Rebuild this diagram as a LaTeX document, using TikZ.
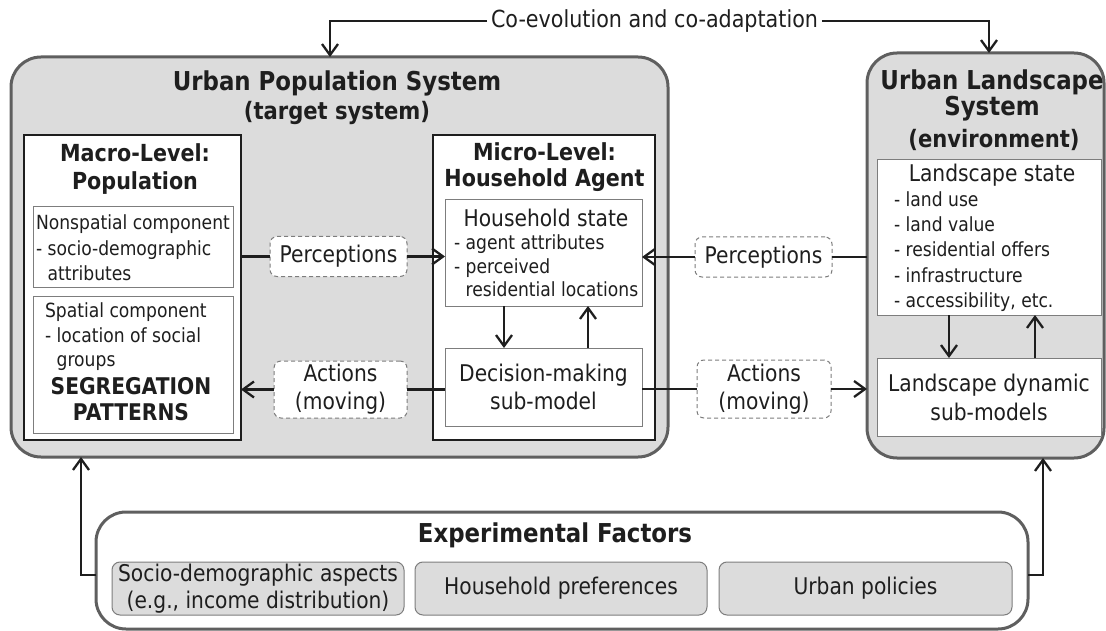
\documentclass[tikz,border=0pt]{standalone}
\usepackage{fontspec}
\setmainfont[FakeStretch=0.88]{DejaVu Sans}
\usetikzlibrary{arrows.meta}
\definecolor{boxgray}{RGB}{220,220,220}
\definecolor{bordergray}{RGB}{95,95,95}
\definecolor{ink}{RGB}{30,30,30}
\definecolor{thingray}{RGB}{125,125,125}
\newcommand\myfs[2]{\fontsize{#1}{#2}\selectfont}
\begin{document}
\begin{tikzpicture}[x=1pt,y=-1pt,
  every node/.style={inner sep=0pt, outer sep=0pt, text=ink},
  sysbox/.style={draw=bordergray, line width=3pt, fill=boxgray, rounded corners=30pt},
  levelbox/.style={draw=ink, line width=1.8pt, fill=white},
  compbox/.style={draw=thingray, line width=1pt, fill=white},
  factbox/.style={draw=thingray, line width=1pt, fill=boxgray, rounded corners=8pt, align=center, font=\myfs{23}{27}},
  flowbox/.style={draw=thingray, line width=1pt, dash pattern=on 4pt off 3pt, fill=white, rounded corners=7pt, align=center, font=\myfs{23}{28}},
  link/.style={draw=ink, line width=2.3pt},
  arr/.style={link, -{Straight Barb[length=11pt,width=16pt]}},
  big/.style={font=\myfs{23}{28}, align=center},
  small/.style={font=\myfs{19.5}{25}, align=left},
  boldt/.style={font=\bfseries\myfs{23.5}{28}, align=center}]
\useasboundingbox (0,0) rectangle (1106,631);

% ---- main system boxes
\node[sysbox, minimum width=657pt, minimum height=400pt] (ups) at (339.5,257) {};
\node[sysbox, minimum width=237pt, minimum height=405pt] (uls) at (985.5,255.5) {};
\node[draw=bordergray, line width=3pt, fill=white, rounded corners=30pt, minimum width=932pt, minimum height=117pt] (ef) at (562,570.5) {};

% ---- titles
\node[font=\bfseries\myfs{26}{30}] (upsT) at (337,83) {Urban Population System};
\node[font=\bfseries\myfs{24}{28}] (upsS) at (337,113) {(target system)};
\node[font=\bfseries\myfs{26}{26}, align=center] (ulsT) at (992,95) {Urban Landscape\\System};
\node[font=\bfseries\myfs{24}{28}] (ulsS) at (994,140) {(environment)};
\node[font=\bfseries\myfs{26}{30}] (efT) at (555,535) {Experimental Factors};
\node[font=\myfs{23.5}{28}, inner sep=4pt] (coev) at (654.5,21) {Co-evolution and co-adaptation};

% ---- macro level
\node[levelbox, minimum width=217pt, minimum height=305pt] (macro) at (132.5,287.5) {};
\node[boldt] (macT) at (135,169) {Macro-Level:\\Population};
\node[compbox, minimum width=200pt, minimum height=80pt] (ns) at (133,247) {};
\node[small, font=\myfs{19.5}{25.5}, anchor=west] (nsT) at (36,248) {Nonspatial component\\- socio-demographic\\\phantom{- }attributes};
\node[compbox, minimum width=200pt, minimum height=137pt] (sp) at (133,364.5) {};
\node[small, font=\myfs{19.5}{24.5}, anchor=west] (spT) at (45,337) {Spatial component\\- location of social\\\phantom{- }groups};
\node[font=\bfseries\myfs{23}{26}, align=center] (segT) at (131,399) {SEGREGATION\\PATTERNS};

% ---- micro level
\node[levelbox, minimum width=222pt, minimum height=305pt] (micro) at (544,287.5) {};
\node[boldt, font=\bfseries\myfs{23.5}{26}] (micT) at (544.5,167.5) {Micro-Level:\\Household Agent};
\node[compbox, minimum width=197pt, minimum height=106pt] (hs) at (543.5,253) {};
\node[big] (hsT) at (546,218) {Household state};
\node[small, font=\myfs{19.5}{23.5}, anchor=west] (hsL) at (454,266) {- agent attributes\\- perceived\\\phantom{- }residential locations};
\node[compbox, big, minimum width=197pt, minimum height=78pt] (dm) at (543.5,387) {Decision-making\\sub-model};

% ---- landscape
\node[compbox, minimum width=224pt, minimum height=155pt] (ls) at (989,237.5) {};
\node[big] (lsT) at (992,175) {Landscape state};
\node[small, font=\myfs{19.5}{25.2}, anchor=west] (lsL) at (894,251.5) {- land use\\- land value\\- residential offers\\- infrastructure\\- accessibility, etc.};
\node[compbox, big, font=\myfs{23}{29}, minimum width=224pt, minimum height=78pt] (ld) at (989,397) {Landscape dynamic\\sub-models};

% ---- flows
\node[flowbox, minimum width=137pt, minimum height=40pt] (pl) at (338.5,256.5) {Perceptions};
\node[flowbox, minimum width=133pt, minimum height=57pt] (al) at (340.5,389.5) {Actions\\(moving)};
\node[flowbox, minimum width=137pt, minimum height=40pt] (pr) at (763.5,257) {Perceptions};
\node[flowbox, minimum width=134pt, minimum height=58pt] (ar) at (764,389) {Actions\\(moving)};

% ---- factors
\node[factbox, minimum width=292pt, minimum height=53pt] (f1) at (258,588.5) {Socio-demographic aspects\\(e.g., income distribution)};
\node[factbox, minimum width=292pt, minimum height=53pt] (f2) at (561,588.5) {Household preferences};
\node[factbox, minimum width=293pt, minimum height=53pt] (f3) at (865.5,588.5) {Urban policies};

% ---- connectors
\draw[link] (macro.east |- pl.west) -- (pl.west);
\draw[arr] (pl.east) -- (pl.east -| hs.west);
\draw[link] (al.east -| dm.west) -- (al.east);
\draw[arr] (al.west) -- (al.west -| macro.east);
\draw[link] (pr.east -| uls.west) -- (pr.east);
\draw[arr] (pr.west) -- (pr.west -| hs.east);
\draw[link] (ar.west -| dm.east) -- (ar.west);
\draw[arr] (ar.east) -- (ar.east -| uls.west);

\draw[arr] ([xshift=-39.5pt]hs.south) -- ([xshift=-39.5pt]dm.north);
\draw[arr] ([xshift=44.5pt]dm.north) -- ([xshift=44.5pt]hs.south);
\draw[arr] ([xshift=-40pt]ls.south) -- ([xshift=-40pt]ld.north);
\draw[arr] ([xshift=46pt]ld.north) -- ([xshift=46pt]ls.south);

\draw[arr] (coev.west) -| ([xshift=-9.5pt]ups.north);
\draw[arr] (coev.east) -| ([xshift=3.5pt]uls.north);
\draw[arr] ([yshift=-4.5pt]ef.west) -| ([xshift=-258.5pt]ups.south);
\draw[arr] ([yshift=-4.5pt]ef.east) -| ([xshift=57.5pt]uls.south);
\end{tikzpicture}
\end{document}
